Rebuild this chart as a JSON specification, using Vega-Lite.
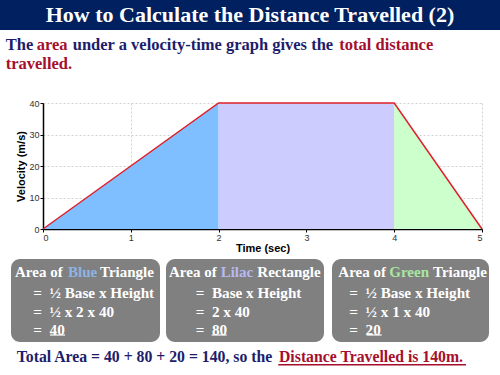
{
  "$schema": "https://vega.github.io/schema/vega-lite/v6.json",
  "width": 439,
  "height": 126,
  "autosize": "none",
  "padding": {"left": 43, "top": 103, "right": 18, "bottom": 146},
  "background": "white",
  "config": {
    "view": {"stroke": null},
    "axis": {
      "grid": true, "gridDash": [2, 2], "gridColor": "#d0d0d0", "gridWidth": 1,
      "domainColor": "#000000", "domainWidth": 1.5,
      "tickColor": "#000000", "tickSize": 3, "tickWidth": 1,
      "labelFont": "Liberation Sans", "labelFontSize": 9, "labelColor": "#333333", "labelPadding": 1,
      "titleFont": "Liberation Sans", "titleFontSize": 11, "titleFontWeight": "bold", "titleColor": "#000000",
      "zindex": 1
    },
    "text": {"font": "Liberation Serif", "fontWeight": "bold", "align": "left", "baseline": "middle"}
  },
  "resolve": {"axis": {"x": "independent", "y": "independent"}},
  "datasets": {
    "profile": [
      {"t": 0, "v": 0, "region": "Blue"},
      {"t": 2, "v": 40, "region": "Blue"},
      {"t": 2, "v": 40, "region": "Lilac"},
      {"t": 4, "v": 40, "region": "Lilac"},
      {"t": 4, "v": 40, "region": "Green"},
      {"t": 5, "v": 0, "region": "Green"}
    ]
  },
  "layer": [
    {
      "data": {"name": "profile"},
      "mark": {"type": "area", "opacity": 1},
      "encoding": {
        "x": {"field": "t", "type": "quantitative", "scale": {"domain": [0, 5], "nice": false, "zero": false},
              "axis": {"title": "Time (sec)", "values": [0, 1, 2, 3, 4, 5], "format": "d", "titlePadding": 0}},
        "y": {"field": "v", "type": "quantitative", "stack": null, "scale": {"domain": [0, 40], "nice": false},
              "axis": {"title": "Velocity (m/s)", "values": [0, 10, 20, 30, 40], "format": "d", "titlePadding": 2}},
        "color": {"field": "region", "type": "nominal", "legend": null,
                  "scale": {"domain": ["Blue", "Lilac", "Green"], "range": ["#80bfff", "#ccccff", "#ccffcc"]}}
      }
    },
    {
      "data": {"name": "profile"},
      "mark": {"type": "line", "color": "#e0202a", "strokeWidth": 1.5},
      "encoding": {
        "x": {"field": "t", "type": "quantitative", "axis": null},
        "y": {"field": "v", "type": "quantitative", "axis": null}
      }
    },
    {
      "data": {"values": [{"item": "banner"}]},
      "mark": {"type": "rect", "color": "#002060"},
      "encoding": {
        "x": {"datum": -0.49, "type": "quantitative", "axis": null}, "x2": {"datum": 5.21},
        "y": {"datum": 72.8, "type": "quantitative", "axis": null}, "y2": {"datum": 63.175}
      }
    },
    {
      "data": {"values": [{"label": "How to Calculate the Distance Travelled (2)"}]},
      "mark": {"type": "text", "align": "center", "fontSize": 22, "color": "white"},
      "encoding": {"x": {"datum": 2.3576, "type": "quantitative", "axis": null}, "y": {"datum": 67.9, "type": "quantitative", "axis": null}, "text": {"field": "label"}}
    },
    {
      "data": {"values": [{"label": "The"}]},
      "mark": {"type": "text", "fontSize": 16.5, "color": "#1d1d6b"},
      "encoding": {"x": {"datum": -0.4248, "type": "quantitative", "axis": null}, "y": {"datum": 58.41, "type": "quantitative", "axis": null}, "text": {"field": "label"}}
    },
    {
      "data": {"values": [{"label": "area"}]},
      "mark": {"type": "text", "fontSize": 16.5, "color": "#a50f2d"},
      "encoding": {"x": {"datum": -0.0718, "type": "quantitative", "axis": null}, "y": {"datum": 58.41, "type": "quantitative", "axis": null}, "text": {"field": "label"}}
    },
    {
      "data": {"values": [{"label": "under a velocity-time graph gives the"}]},
      "mark": {"type": "text", "fontSize": 16.5, "color": "#1d1d6b"},
      "encoding": {"x": {"datum": 0.3383, "type": "quantitative", "axis": null}, "y": {"datum": 58.41, "type": "quantitative", "axis": null}, "text": {"field": "label"}}
    },
    {
      "data": {"values": [{"label": "total distance"}]},
      "mark": {"type": "text", "fontSize": 16.5, "color": "#a50f2d"},
      "encoding": {"x": {"datum": 3.3747, "type": "quantitative", "axis": null}, "y": {"datum": 58.41, "type": "quantitative", "axis": null}, "text": {"field": "label"}}
    },
    {
      "data": {"values": [{"label": "travelled."}]},
      "mark": {"type": "text", "fontSize": 16.5, "color": "#a50f2d"},
      "encoding": {"x": {"datum": -0.4248, "type": "quantitative", "axis": null}, "y": {"datum": 52.38, "type": "quantitative", "axis": null}, "text": {"field": "label"}}
    },
    {
      "data": {"values": [{"box": "Blue"}]},
      "mark": {"type": "rect", "color": "#808080", "cornerRadius": 9},
      "encoding": {"x": {"datum": -0.3645, "type": "quantitative", "axis": null}, "x2": {"datum": 1.3326}, "y": {"datum": -9.52, "type": "quantitative", "axis": null}, "y2": {"datum": -35.87}}
    },
    {
      "data": {"values": [{"box": "Lilac"}]},
      "mark": {"type": "rect", "color": "#808080", "cornerRadius": 9},
      "encoding": {"x": {"datum": 1.4009, "type": "quantitative", "axis": null}, "x2": {"datum": 3.2005}, "y": {"datum": -9.52, "type": "quantitative", "axis": null}, "y2": {"datum": -35.87}}
    },
    {
      "data": {"values": [{"box": "Green"}]},
      "mark": {"type": "rect", "color": "#808080", "cornerRadius": 9},
      "encoding": {"x": {"datum": 3.2916, "type": "quantitative", "axis": null}, "x2": {"datum": 5.0797}, "y": {"datum": -9.52, "type": "quantitative", "axis": null}, "y2": {"datum": -35.87}}
    },
    {
      "data": {"values": [{"label": "Area of"}]},
      "mark": {"type": "text", "fontSize": 15, "color": "white"},
      "encoding": {"x": {"datum": -0.3189, "type": "quantitative", "axis": null}, "y": {"datum": -13.75, "type": "quantitative", "axis": null}, "text": {"field": "label"}}
    },
    {
      "data": {"values": [{"label": "Blue"}]},
      "mark": {"type": "text", "fontSize": 15, "color": "#8db4e2"},
      "encoding": {"x": {"datum": 0.2847, "type": "quantitative", "axis": null}, "y": {"datum": -13.75, "type": "quantitative", "axis": null}, "text": {"field": "label"}}
    },
    {
      "data": {"values": [{"label": "Triangle"}]},
      "mark": {"type": "text", "fontSize": 15, "color": "white"},
      "encoding": {"x": {"datum": 0.6492, "type": "quantitative", "axis": null}, "y": {"datum": -13.75, "type": "quantitative", "axis": null}, "text": {"field": "label"}}
    },
    {
      "data": {"values": [{"label": "Area of"}]},
      "mark": {"type": "text", "fontSize": 15, "color": "white"},
      "encoding": {"x": {"datum": 1.4351, "type": "quantitative", "axis": null}, "y": {"datum": -13.75, "type": "quantitative", "axis": null}, "text": {"field": "label"}}
    },
    {
      "data": {"values": [{"label": "Lilac"}]},
      "mark": {"type": "text", "fontSize": 15, "color": "#b8b8f2"},
      "encoding": {"x": {"datum": 2.0239, "type": "quantitative", "axis": null}, "y": {"datum": -13.75, "type": "quantitative", "axis": null}, "text": {"field": "label"}}
    },
    {
      "data": {"values": [{"label": "Rectangle"}]},
      "mark": {"type": "text", "fontSize": 15, "color": "white"},
      "encoding": {"x": {"datum": 2.4408, "type": "quantitative", "axis": null}, "y": {"datum": -13.75, "type": "quantitative", "axis": null}, "text": {"field": "label"}}
    },
    {
      "data": {"values": [{"label": "Area of"}]},
      "mark": {"type": "text", "fontSize": 15, "color": "white"},
      "encoding": {"x": {"datum": 3.3633, "type": "quantitative", "axis": null}, "y": {"datum": -13.75, "type": "quantitative", "axis": null}, "text": {"field": "label"}}
    },
    {
      "data": {"values": [{"label": "Green"}]},
      "mark": {"type": "text", "fontSize": 15, "color": "#a9e6a1"},
      "encoding": {"x": {"datum": 3.9442, "type": "quantitative", "axis": null}, "y": {"datum": -13.75, "type": "quantitative", "axis": null}, "text": {"field": "label"}}
    },
    {
      "data": {"values": [{"label": "Triangle"}]},
      "mark": {"type": "text", "fontSize": 15, "color": "white"},
      "encoding": {"x": {"datum": 4.4419, "type": "quantitative", "axis": null}, "y": {"datum": -13.75, "type": "quantitative", "axis": null}, "text": {"field": "label"}}
    },
    {
      "data": {"values": [{"label": "= \u00a0½ Base x Height"}]},
      "mark": {"type": "text", "fontSize": 15.2, "color": "white"},
      "encoding": {"x": {"datum": -0.1105, "type": "quantitative", "axis": null}, "y": {"datum": -20.41, "type": "quantitative", "axis": null}, "text": {"field": "label"}}
    },
    {
      "data": {"values": [{"label": "= \u00a0½ x 2 x 40"}]},
      "mark": {"type": "text", "fontSize": 15.2, "color": "white"},
      "encoding": {"x": {"datum": -0.1105, "type": "quantitative", "axis": null}, "y": {"datum": -26.25, "type": "quantitative", "axis": null}, "text": {"field": "label"}}
    },
    {
      "data": {"values": [{"label": "= \u00a040"}]},
      "mark": {"type": "text", "fontSize": 15.2, "color": "white"},
      "encoding": {"x": {"datum": -0.1105, "type": "quantitative", "axis": null}, "y": {"datum": -32.06, "type": "quantitative", "axis": null}, "text": {"field": "label"}}
    },
    {
      "data": {"values": [{"label": "= \u00a0Base x Height"}]},
      "mark": {"type": "text", "fontSize": 15.2, "color": "white"},
      "encoding": {"x": {"datum": 1.7392, "type": "quantitative", "axis": null}, "y": {"datum": -20.41, "type": "quantitative", "axis": null}, "text": {"field": "label"}}
    },
    {
      "data": {"values": [{"label": "= \u00a02 x 40"}]},
      "mark": {"type": "text", "fontSize": 15.2, "color": "white"},
      "encoding": {"x": {"datum": 1.7392, "type": "quantitative", "axis": null}, "y": {"datum": -26.25, "type": "quantitative", "axis": null}, "text": {"field": "label"}}
    },
    {
      "data": {"values": [{"label": "= \u00a080"}]},
      "mark": {"type": "text", "fontSize": 15.2, "color": "white"},
      "encoding": {"x": {"datum": 1.7392, "type": "quantitative", "axis": null}, "y": {"datum": -32.06, "type": "quantitative", "axis": null}, "text": {"field": "label"}}
    },
    {
      "data": {"values": [{"label": "= \u00a0½ Base x Height"}]},
      "mark": {"type": "text", "fontSize": 15.2, "color": "white"},
      "encoding": {"x": {"datum": 3.4886, "type": "quantitative", "axis": null}, "y": {"datum": -20.41, "type": "quantitative", "axis": null}, "text": {"field": "label"}}
    },
    {
      "data": {"values": [{"label": "= \u00a0½ x 1 x 40"}]},
      "mark": {"type": "text", "fontSize": 15.2, "color": "white"},
      "encoding": {"x": {"datum": 3.4886, "type": "quantitative", "axis": null}, "y": {"datum": -26.25, "type": "quantitative", "axis": null}, "text": {"field": "label"}}
    },
    {
      "data": {"values": [{"label": "= \u00a020"}]},
      "mark": {"type": "text", "fontSize": 15.2, "color": "white"},
      "encoding": {"x": {"datum": 3.4886, "type": "quantitative", "axis": null}, "y": {"datum": -32.06, "type": "quantitative", "axis": null}, "text": {"field": "label"}}
    },
    {
      "data": {"values": [{"result": 40}]},
      "mark": {"type": "rule", "color": "white", "strokeWidth": 1.2},
      "encoding": {"x": {"datum": 0.0797, "type": "quantitative", "axis": null}, "x2": {"datum": 0.2506}, "y": {"datum": -33.65, "type": "quantitative", "axis": null}}
    },
    {
      "data": {"values": [{"result": 80}]},
      "mark": {"type": "rule", "color": "white", "strokeWidth": 1.2},
      "encoding": {"x": {"datum": 1.9214, "type": "quantitative", "axis": null}, "x2": {"datum": 2.0923}, "y": {"datum": -33.65, "type": "quantitative", "axis": null}}
    },
    {
      "data": {"values": [{"result": 20}]},
      "mark": {"type": "rule", "color": "white", "strokeWidth": 1.2},
      "encoding": {"x": {"datum": 3.6868, "type": "quantitative", "axis": null}, "x2": {"datum": 3.8576}, "y": {"datum": -33.65, "type": "quantitative", "axis": null}}
    },
    {
      "data": {"values": [{"label": "Total Area = 40 + 80 + 20 = 140, so the"}]},
      "mark": {"type": "text", "fontSize": 15.75, "color": "#1d1d6b"},
      "encoding": {"x": {"datum": -0.2995, "type": "quantitative", "axis": null}, "y": {"datum": -40.63, "type": "quantitative", "axis": null}, "text": {"field": "label"}}
    },
    {
      "data": {"values": [{"label": "Distance Travelled is 140m."}]},
      "mark": {"type": "text", "fontSize": 15.75, "color": "#a50f2d"},
      "encoding": {"x": {"datum": 2.6879, "type": "quantitative", "axis": null}, "y": {"datum": -40.63, "type": "quantitative", "axis": null}, "text": {"field": "label"}}
    },
    {
      "data": {"values": [{"distance": 140}]},
      "mark": {"type": "rule", "color": "#a50f2d", "strokeWidth": 1.5},
      "encoding": {"x": {"datum": 2.6799, "type": "quantitative", "axis": null}, "x2": {"datum": 4.8178}, "y": {"datum": -43.08, "type": "quantitative", "axis": null}}
    }
  ]
}
